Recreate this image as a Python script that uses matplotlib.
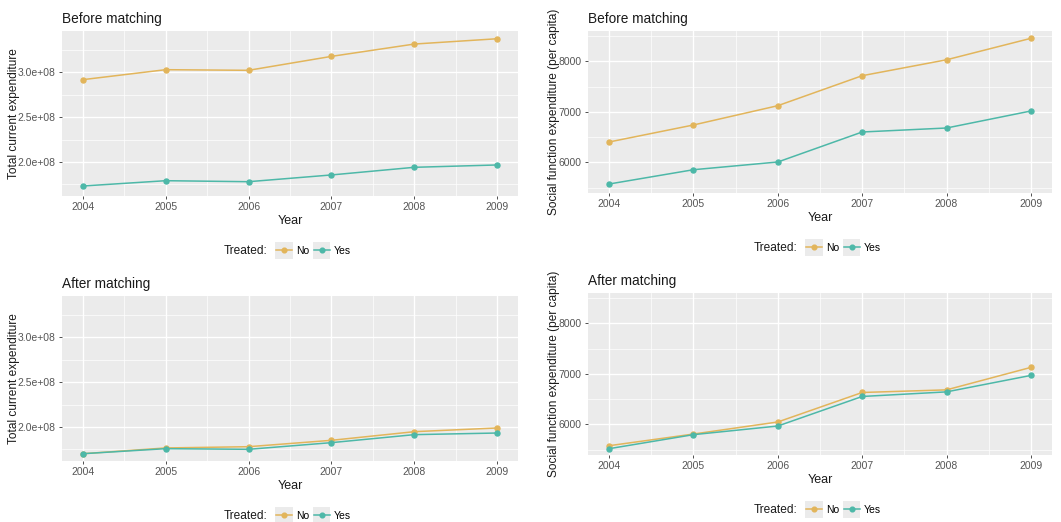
import matplotlib
matplotlib.use('Agg')
import matplotlib.pyplot as plt
from matplotlib.legend_handler import HandlerLine2D
from matplotlib.lines import Line2D
from matplotlib.patches import Rectangle
from matplotlib.ticker import FuncFormatter

plt.rcParams['font.family'] = ['Liberation Sans', 'DejaVu Sans']

# Data
years = [2004, 2005, 2006, 2007, 2008, 2009]

total_before_no = [2.915e8, 3.026e8, 3.019e8, 3.174e8, 3.311e8, 3.370e8]
total_before_yes = [1.733e8, 1.792e8, 1.781e8, 1.856e8, 1.941e8, 1.967e8]
total_after_no = [1.703e8, 1.767e8, 1.781e8, 1.852e8, 1.948e8, 1.989e8]
total_after_yes = [1.703e8, 1.759e8, 1.752e8, 1.826e8, 1.915e8, 1.933e8]

social_before_no = [6402, 6739, 7121, 7715, 8030, 8455]
social_before_yes = [5570, 5853, 6006, 6600, 6679, 7016]
social_after_no = [5576, 5807, 6046, 6630, 6682, 7127]
social_after_yes = [5517, 5795, 5966, 6551, 6642, 6968]

total_ticks = [2.0e8, 2.5e8, 3.0e8]
social_ticks = [6000, 7000, 8000]

col_no = '#E2B55B'
col_yes = '#4DB8A8'
W, H = 1061, 522


class KeyHandler(HandlerLine2D):
    # ggplot-style legend key: grey square behind the line
    def create_artists(self, legend, orig_handle, xdescent, ydescent,
                       width, height, fontsize, trans):
        side = width + 1
        cy = -ydescent + height / 2
        box = Rectangle((-xdescent - 0.5, cy - side / 2), side, side,
                        facecolor='#EBEBEB', edgecolor='none', transform=trans)
        arts = super().create_artists(legend, orig_handle, xdescent, ydescent,
                                      width, height, fontsize, trans)
        return [box] + arts


def panel(box, title, no, yes, ylim, ticks, ylabel, fmt, ylab_x, leg_y):
    fig = plt.gcf()
    x0, y0, x1, y1 = box
    ax = fig.add_axes([x0 / W, 1 - y1 / H, (x1 - x0) / W, (y1 - y0) / H])
    ax.set_facecolor('#EBEBEB')
    for s in ax.spines.values():
        s.set_visible(False)
    ax.plot(years, no, color=col_no, lw=1.1, marker='o', ms=3.6, zorder=3)
    ax.plot(years, yes, color=col_yes, lw=1.1, marker='o', ms=3.6, zorder=3)
    ax.set_xlim(2003.75, 2009.25)
    ax.set_ylim(*ylim)
    ax.set_xticks(years)
    ax.set_yticks(ticks)
    step = ticks[1] - ticks[0]
    ax.set_yticks([ticks[0] - step / 2] + [t + step / 2 for t in ticks], minor=True)
    ax.set_xticks([y + 0.5 for y in years[:-1]], minor=True)
    ax.yaxis.set_major_formatter(FuncFormatter(fmt))
    ax.grid(True, which='major', color='white', lw=1.0)
    ax.grid(True, which='minor', color='white', lw=0.5)
    ax.set_axisbelow(True)
    ax.tick_params(which='major', length=2.5, width=0.6, color='#333333',
                   labelsize=7.5, labelcolor='#555555', pad=2)
    ax.tick_params(which='minor', length=0)
    ax.set_xlabel('Year', fontsize=9, labelpad=2, color='#1A1A1A')
    ax.set_title(title, loc='left', fontsize=9.8, pad=6, color='#1A1A1A')
    fig.text(ylab_x / W, 1 - (y0 + y1) / 2 / H, ylabel, rotation=90,
             ha='center', va='center', fontsize=8.6, color='#1A1A1A')
    # legend below the panel
    cx = (x0 + x1) / 2
    fig.text((cx - 23) / W, 1 - leg_y / H, 'Treated:', ha='right', va='center',
             fontsize=8.6, color='#1A1A1A')
    handles = [Line2D([], [], color=col_no, lw=1.1, marker='o', ms=3.4),
               Line2D([], [], color=col_yes, lw=1.1, marker='o', ms=3.4)]
    fig.legend(handles, ['No', 'Yes'], ncol=2, frameon=False,
               loc='center left', bbox_to_anchor=((cx - 14) / W, 1 - leg_y / H),
               fontsize=7.5, handlelength=1.55, handletextpad=0.35,
               columnspacing=0.45, borderpad=0, borderaxespad=0,
               handler_map={Line2D: KeyHandler()})
    return ax


fig = plt.figure(figsize=(W / 100, H / 100), dpi=100)

tot_lim = (1.622e8, 3.456e8)
soc_lim = (5392, 8600)
sci_fmt = lambda v, p: '%.1e' % v
int_fmt = lambda v, p: '%d' % v

panel((62, 31, 518, 196), 'Before matching', total_before_no, total_before_yes,
      tot_lim, total_ticks, 'Total current expenditure', sci_fmt, 14, 251)
panel((588, 31, 1052, 193), 'Before matching', social_before_no, social_before_yes,
      soc_lim, social_ticks, 'Social function expenditure (per capita)', int_fmt, 554, 248)
panel((62, 296, 518, 461), 'After matching', total_after_no, total_after_yes,
      tot_lim, total_ticks, 'Total current expenditure', sci_fmt, 14, 516)
panel((588, 293, 1052, 455), 'After matching', social_after_no, social_after_yes,
      soc_lim, social_ticks, 'Social function expenditure (per capita)', int_fmt, 554, 510)

fig.savefig('out.png', dpi=100)
